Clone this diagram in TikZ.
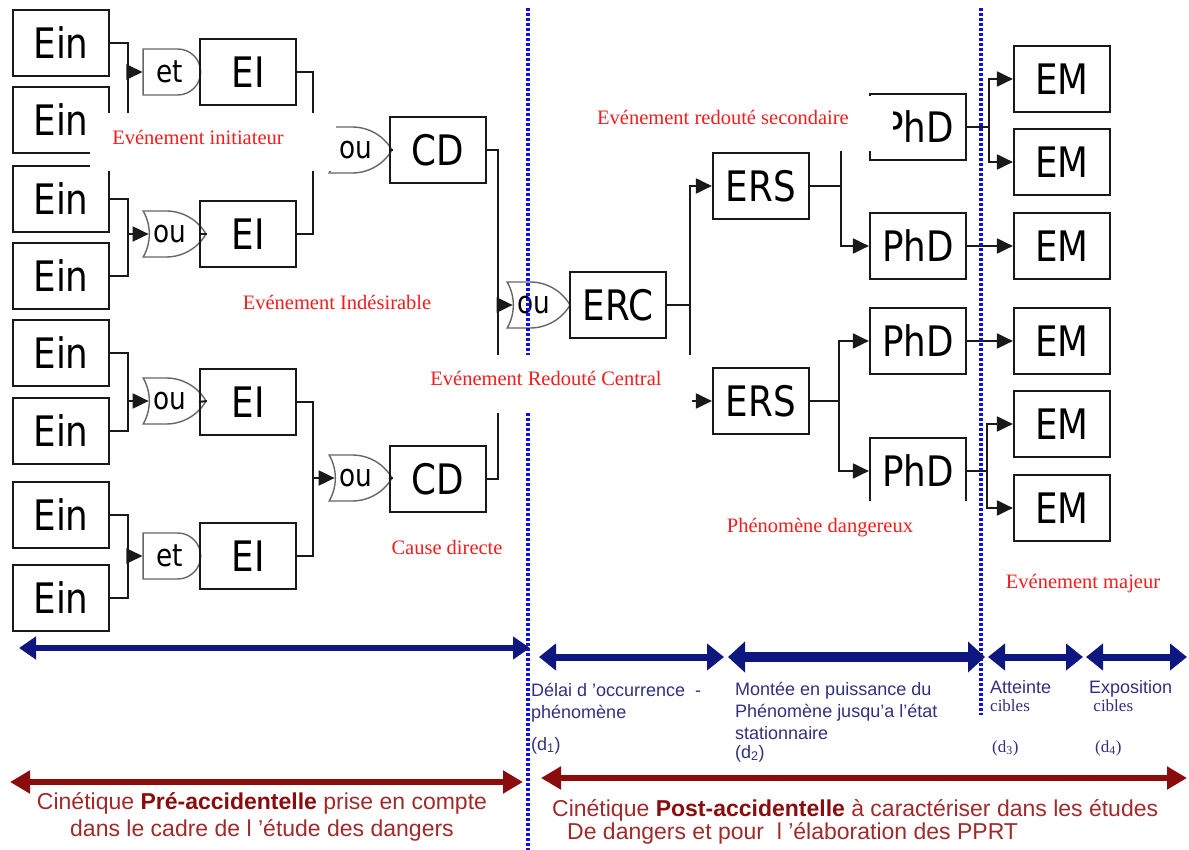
\documentclass[tikz,border=0pt]{standalone}
\usepackage{fontspec}
\usepackage{tikz}
\usetikzlibrary{arrows.meta,positioning,calc,shapes.gates.logic.US}
\setmainfont{Liberation Sans}
\newfontfamily\boxfont[FakeStretch=0.85]{DejaVu Sans}
\newfontfamily\redfont{Liberation Serif}
\definecolor{navy}{RGB}{14,22,128}
\definecolor{navytext}{RGB}{48,48,128}
\definecolor{darkred}{RGB}{138,12,12}
\definecolor{kintext}{RGB}{160,42,42}
\definecolor{dotblue}{RGB}{12,12,245}
\definecolor{evtred}{RGB}{240,30,30}

\begin{document}
\begin{tikzpicture}[x=1pt,y=-1pt,
  box/.style={draw=black!90, line width=2.2pt, minimum width=96pt, minimum height=66pt,
    inner sep=0pt, font=\boxfont\fontsize{42}{50}\selectfont},
  gate/.style={draw=black!60, line width=1.4pt, minimum width=49pt, minimum height=46pt,
    inner sep=0pt, font=\boxfont\fontsize{31}{36}\selectfont},
  andg/.style={gate, shape=and gate US},
  org/.style={gate, shape=or gate US},
  wire/.style={black!90, line width=2pt},
  arr/.style={wire, -{Triangle[length=16pt,width=15pt]}},
  evt/.style={font=\redfont\fontsize{20.5}{24}\selectfont, text=evtred, inner sep=0pt},
  sep/.style={dotblue, line width=4pt, dash pattern=on 3pt off 2pt},
  span/.style 2 args={navy, line width=#1,
    {Triangle[length=17pt,width=#2]}-{Triangle[length=17pt,width=#2]}},
  kinspan/.style={darkred, line width=6pt,
    {Triangle[length=20pt,width=22pt]}-{Triangle[length=20pt,width=22pt]}},
  phase/.style={font=\fontsize{18}{22}\selectfont, text=navytext, inner sep=0pt,
    align=left, anchor=base west},
  kin/.style={font=\fontsize{23}{27}\selectfont, text=kintext, inner sep=0pt}]
  \useasboundingbox (0,0) rectangle (1189,850);

  % Initial events
  \node[box] (ein1) at (61,43) {Ein};
  \node[box] (ein2) at (61,120) {Ein};
  \node[box] (ein3) at (61,199) {Ein};
  \node[box] (ein4) at (61,276) {Ein};
  \node[box] (ein5) at (61,353) {Ein};
  \node[box] (ein6) at (61,431) {Ein};
  \node[box] (ein7) at (61,515) {Ein};
  \node[box] (ein8) at (61,598) {Ein};

  % Gates and undesirable events
  \node[andg] (g1) at (170,72) {et};
  \node[org] (g2) at (170,234) {ou};
  \node[org] (g3) at (170,401) {ou};
  \node[andg] (g4) at (170,556) {et};
  \node[box] (ei1) at (248,72) {EI};
  \node[box] (ei2) at (248,234) {EI};
  \node[box] (ei3) at (248,402) {EI};
  \node[box] (ei4) at (248,556) {EI};

  % Direct causes
  \node[org] (g5) at (356,150) {ou};
  \node[org] (g6) at (356,478) {ou};
  \node[box] (cd1) at (438,150) {CD};
  \node[box] (cd2) at (438,479) {CD};

  % Central event
  \node[org] (g7) at (534,305) {ou};
  \node[box] (erc) at (618,305) {ERC};

  % Secondary events, dangerous phenomena, major events
  \node[box] (ers1) at (761,186) {ERS};
  \node[box] (ers2) at (761,401) {ERS};
  \node[box] (phd1) at (918,127) {PhD};
  \node[box] (phd2) at (918,246) {PhD};
  \node[box] (phd3) at (918,341) {PhD};
  \node[box] (phd4) at (918,471) {PhD};
  \node[box] (em1) at (1062,79) {EM};
  \node[box] (em2) at (1062,162) {EM};
  \node[box] (em3) at (1062,246) {EM};
  \node[box] (em4) at (1062,341) {EM};
  \node[box] (em5) at (1062,424) {EM};
  \node[box] (em6) at (1062,508) {EM};

  % Junctions
  \coordinate (j1) at (128,72);
  \coordinate (j2) at (128,234);
  \coordinate (j3) at (128,401);
  \coordinate (j4) at (128,556);
  \coordinate (j5) at (313,150);
  \coordinate (j6) at (313,478);
  \coordinate (j7) at (498,305);
  \coordinate (j8) at (690,305);
  \coordinate (j9) at (841,186);
  \coordinate (j10) at (839,401);
  \coordinate (j11) at (989,127);
  \coordinate (j12) at (987,471);

  % Left tree
  \draw[wire] (ein1.east) -| (j1) |- (ein2.east);
  \draw[wire] (ein3.east) -| (j2) |- (ein4.east);
  \draw[wire] (ein5.east) -| (j3) |- (ein6.east);
  \draw[wire] (ein7.east) -| (j4) |- (ein8.east);
  \draw[arr] (j1) -- (g1.west);
  \draw[arr] (j2) -- (g2.west);
  \draw[arr] (j3) -- (g3.west);
  \draw[arr] (j4) -- (g4.west);
  \draw[wire] (g1.east) -- (ei1.west);
  \draw[wire] (g2.east) -- (ei2.west);
  \draw[wire] (g3.east) -- (ei3.west);
  \draw[wire] (g4.east) -- (ei4.west);
  \draw[wire] (ei1.east) -| (j5) |- (ei2.east);
  \draw[wire] (ei3.east) -| (j6) |- (ei4.east);
  \draw[arr] (j5) -- (g5.west);
  \draw[arr] (j6) -- (g6.west);
  \draw[wire] (g5.east) -- (cd1.west);
  \draw[wire] (g6.east) -- (cd2.west);
  \draw[wire] (cd1.east) -| (j7) |- (cd2.east);
  \draw[arr] (j7) -- (g7.west);
  \draw[wire] (g7.east) -- (erc.west);

  % Right tree
  \draw[wire] (erc.east) -- (j8);
  \draw[arr] (j8) |- (ers1.west);
  \draw[arr] (j8) |- (ers2.west);
  \draw[wire] (ers1.east) -- (j9);
  \draw[arr] (j9) |- (phd1.west);
  \draw[arr] (j9) |- (phd2.west);
  \draw[wire] (ers2.east) -- (j10);
  \draw[arr] (j10) |- (phd3.west);
  \draw[arr] (j10) |- (phd4.west);
  \draw[wire] (phd1.east) -- (j11);
  \draw[arr] (j11) |- (em1.west);
  \draw[arr] (j11) |- (em2.west);
  \draw[arr] (phd2) -- (em3);
  \draw[arr] (phd3) -- (em4);
  \draw[wire] (phd4.east) -- (j12);
  \draw[arr] (j12) |- (em5.west);
  \draw[arr] (j12) |- (em6.west);

  % Dotted separators
  \coordinate (s1) at (528,8);
  \coordinate (s2) at (528,850);
  \coordinate (s3) at (981,8);
  \coordinate (s4) at (981,715);
  \draw[sep] (s1) -- (s2);
  \draw[sep] (s3) -- (s4);

  % white text-box backgrounds
  \fill[white] (90,113) rectangle (336,171);
  \fill[white] (420,355) rectangle (692,413);
  \fill[white] (590,96) rectangle (893,151);
  \fill[white] (715,501) rectangle (972,548);

  % Event labels
  \node[evt] (lbinit) at (198,137) {Evénement initiateur};
  \node[evt] (lbind) at (337,302) {Evénement Indésirable};
  \node[evt] (lberc) at (546,378) {Evénement Redouté Central};
  \node[evt] (lbers) at (723,117) {Evénement redouté secondaire};
  \node[evt] (lbphd) at (820,528) {Phénomène dangereux};
  \node[evt] (lbem) at (1083,584) {Evénement majeur};
  \node[evt] (lbcd) at (447,547) {Cause directe};

  % Kinetics time spans
  \coordinate (t0) at (19,648);
  \coordinate (t1) at (530,648);
  \coordinate (t2) at (539,657);
  \coordinate (t3) at (724,657);
  \coordinate (t4) at (728,657);
  \coordinate (t5) at (985,657);
  \coordinate (t6) at (988,657);
  \coordinate (t7) at (1083,657);
  \coordinate (t8) at (1086,657);
  \coordinate (t9) at (1187,657);
  \draw[span={6pt}{22pt}] (t0) -- (t1);
  \draw[span={7pt}{26pt}] (t2) -- (t3);
  \draw[span={10pt}{30pt}] (t4) -- (t5);
  \draw[span={7pt}{26pt}] (t6) -- (t7);
  \draw[span={7pt}{26pt}] (t8) -- (t9);

  % phase texts (base = last line)
  \node[phase] (d1) at (531,718) {Délai d 'occurrence\ \ -\\phénomène};
  \node[phase] (d1n) at (531,750) {(d\textsubscript{1})};
  \node[phase] (d2) at (735,739) {Montée en puissance du\\Phénomène jusqu'a l'état\\stationnaire};
  \node[phase] (d2n) at (735,758) {(d\textsubscript{2})};
  \node[phase, font=\fontsize{18}{18}\selectfont] (d3) at (990,711) {Atteinte\\\redfont\fontsize{17}{18}\selectfont cibles};
  \node[phase, font=\redfont\fontsize{17}{18}\selectfont] (d3n) at (992,752) {(d\textsubscript{3})};
  \node[phase, font=\fontsize{18}{18}\selectfont] (d4) at (1089,711) {Exposition\\\redfont\fontsize{17}{18}\selectfont\ cibles};
  \node[phase, font=\redfont\fontsize{17}{18}\selectfont] (d4n) at (1095,752) {(d\textsubscript{4})};

  % Pre- and post-accident kinetics
  \coordinate (k0) at (10,782);
  \coordinate (k1) at (523,782);
  \coordinate (k2) at (541,778);
  \coordinate (k3) at (1187,778);
  \draw[kinspan] (k0) -- (k1);
  \draw[kinspan] (k2) -- (k3);

  \node[kin, align=center] (pre) at (262,817)
    {Cinétique \textbf{\color{darkred}Pré-accidentelle} prise en compte\\dans le cadre de l 'étude des dangers};
  \node[kin, align=left, anchor=west, font=\fontsize{23}{23}\selectfont] (post) at (552,822)
    {Cinétique \textbf{\color{darkred}Post-accidentelle} à caractériser dans les études\\\hspace*{15pt}De dangers et pour \ l 'élaboration des PPRT};
\end{tikzpicture}
\end{document}
